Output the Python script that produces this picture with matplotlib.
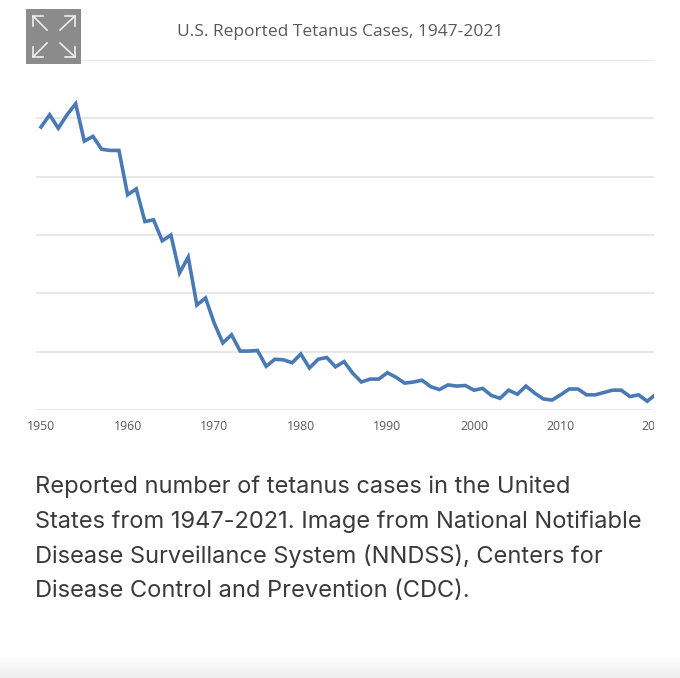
import matplotlib
matplotlib.use('Agg')
import numpy as np
from matplotlib import pyplot as plt
from matplotlib.patches import Rectangle
from matplotlib.transforms import Bbox, ScaledTranslation

# values, first point sits on the "1950" label like in the original
start_label = 1950
cases = [485, 506, 483, 506, 525, 461, 469, 447, 445, 445,
         369, 379, 323, 326, 290, 300, 235, 262, 180, 192,
         149, 115, 129, 101, 101, 102, 75, 87, 86, 81,
         96, 72, 87, 90, 74, 83, 63, 48, 53, 53,
         64, 56, 46, 48, 51, 40, 35, 43, 41, 42,
         34, 37, 25, 20, 34, 27, 41, 29, 19, 17,
         26, 36, 36, 26, 26, 30, 34, 34, 23, 26,
         15, 27]
x_ticks = [1950, 1960, 1970, 1980, 1990, 2000, 2010, 2020]
y_ticks = [0, 100, 200, 300, 400, 500, 600]

title = 'U.S. Reported Tetanus Cases, 1947-2021'
caption = ['Reported number of tetanus cases in the United',
           'States from 1947-2021. Image from National Notifiable',
           'Disease Surveillance System (NNDSS), Centers for',
           'Disease Control and Prevention (CDC).']
caption_y = [487, 522, 556, 591]

W, H = 680, 678
fig = plt.figure(figsize=(W / 100, H / 100), dpi=100, facecolor='white')

# page layer in pixel coordinates
bg = fig.add_axes([0, 0, 1, 1], zorder=0)
bg.set_xlim(0, W)
bg.set_ylim(H, 0)
bg.axis('off')

# shadow at the bottom of the page
shade = np.linspace(1.0, 0.93, 24).reshape(-1, 1)
bg.imshow(shade, extent=(0, W, H, 654), aspect='auto', cmap='gray', vmin=0, vmax=1)
bg.set_xlim(0, W)
bg.set_ylim(H, 0)

for line, y in zip(caption, caption_y):
    bg.text(35, y, line, fontsize=17.0, family='Inter', color='#3a3a3a', va='center', ha='left')

ax = fig.add_axes([36 / W, (H - 410) / H, (654 - 36) / W, 350 / H], zorder=1)
ax.patch.set_alpha(0)
years = np.arange(start_label, start_label + len(cases))
ax.plot(years, cases, color='#4a7ab5', lw=2.6, solid_joinstyle='miter')
ax.set_xlim(start_label - 5 / 8.66, start_label + 613 / 8.66)
ax.set_ylim(0, 600)
ax.set_yticks(y_ticks)
ax.set_xticks(x_ticks)
ax.set_yticklabels([])
ax.grid(axis='y', color='#e4e4e4', lw=1.2)
ax.set_axisbelow(True)
ax.tick_params(length=0)
for s in ax.spines.values():
    s.set_visible(False)

# last label is cut off by the chart edge
clip = Bbox([[0, 0], [654, H]])
for lab in ax.get_xticklabels():
    lab.set_fontsize(8.8)
    lab.set_family('Open Sans')
    lab.set_color('#595959')
    lab.set_clip_box(clip)
    lab.set_clip_on(True)
ax.tick_params(axis='x', pad=7)
last = ax.get_xticklabels()[-1]
last.set_transform(last.get_transform() + ScaledTranslation(8 / 100, 0, fig.dpi_scale_trans))

fig.text(340 / W, 1 - 32 / H, title, fontsize=12.55, family='Open Sans', color='#595959', ha='center', va='center')

# expand button on top of everything
top = fig.add_axes([0, 0, 1, 1], zorder=2)
top.set_xlim(0, W)
top.set_ylim(H, 0)
top.axis('off')
top.add_patch(Rectangle((26, 9), 55, 55, fc='#8b8b8b', ec='none'))
for x0, y0, x1, y1 in [(47, 30, 33, 16), (60, 30, 75, 16), (47, 43, 33, 57), (60, 43, 75, 57)]:
    dx = 1 if x1 > x0 else -1
    dy = 1 if y1 > y0 else -1
    top.plot([x0, x1], [y0, y1], color='#eeeeee', lw=1.2)
    top.plot([x1 - dx * 10, x1, x1], [y1, y1, y1 - dy * 10], color='#eeeeee', lw=1.2)

fig.savefig('out.png', dpi=100)
